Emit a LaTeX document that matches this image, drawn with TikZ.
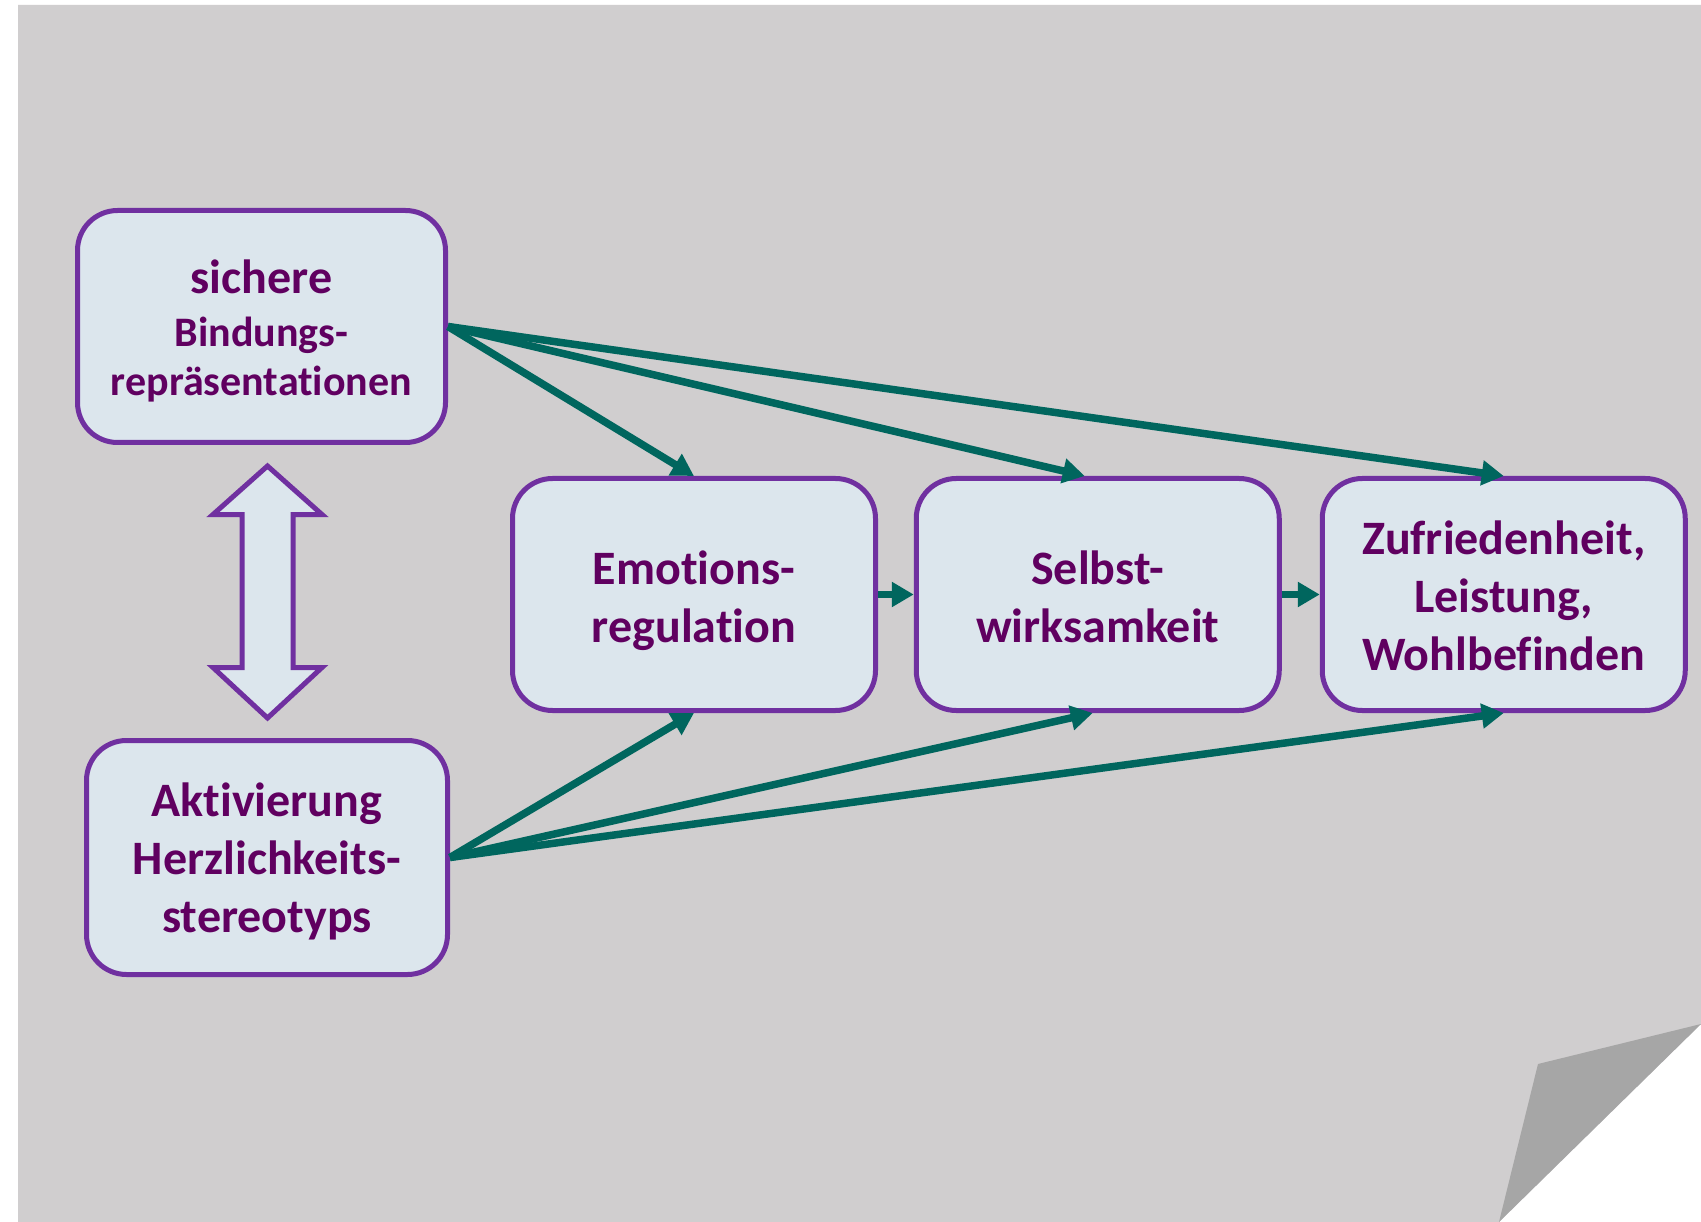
\documentclass[tikz,border=0pt]{standalone}
\usepackage{fontspec}
\setmainfont{Carlito}[Ligatures={NoCommon}]
\usetikzlibrary{arrows.meta,calc}
\definecolor{bggray}{HTML}{D0CECF}
\definecolor{foldgray}{HTML}{A6A6A6}
\definecolor{boxfill}{HTML}{DCE6ED}
\definecolor{boxline}{HTML}{7030A0}
\definecolor{txtpurple}{HTML}{600060}
\definecolor{arrowteal}{HTML}{00665E}
\begin{document}
\begin{tikzpicture}[x=1pt,y=-1pt,
  box/.style={draw=boxline, fill=boxfill, line width=5pt, rounded corners=40pt,
    minimum width=363pt, minimum height=232pt, align=center, text=txtpurple,
    font=\fontsize{48}{58}\selectfont\bfseries, inner sep=0pt, text depth=8pt},
  conn/.style={draw=arrowteal, line width=7.5pt, -{Triangle[length=22pt,width=24pt]}},
  blockarrow/.style={draw=boxline, fill=boxfill, line width=5pt, line join=miter}]
\useasboundingbox (0,0) rectangle (1701,1222);
\fill[white] (0,0) rectangle (1701,1222);
\fill[bggray] (18,5) -- (1701,5) -- (1701,1024) -- (1499,1222) -- (18,1222) -- cycle;
\fill[foldgray] (1701,1024) -- (1538,1064) -- (1499,1222) -- cycle;

\node[box, minimum width=368pt, text height=146pt] (b1) at (261.5,326.5)
  {{\fontsize{48}{53}\selectfont sichere}\\[-5.5pt]
   {\fontsize{42}{50}\selectfont Bindungs-}\\[-9pt]
   {\fontsize{42}{50}\selectfont repräsentationen}};
\node[box, minimum width=361pt, minimum height=234pt, text height=157pt] (b2) at (267,857.5)
  {Aktivierung\\Herzlichkeits-\\stereotyps};
\node[box, text height=104pt] (b3) at (694,594.5) {Emotions-\\regulation};
\node[box, text height=103pt] (b4) at (1097.75,594.5) {Selbst-\\wirksamkeit};
\node[box, text height=159pt] (b5) at (1503.75,594.5) {Zufriedenheit,\\Leistung,\\Wohlbefinden};

\draw[blockarrow] (267.5,466) -- (322,514.5) -- (293,514.5) -- (293,667.5)
  -- (322,667.5) -- (267.5,718) -- (213,667.5) -- (242,667.5) -- (242,514.5)
  -- (213,514.5) -- cycle;

\coordinate (b4n) at ([xshift=-13pt]b4.north);
\coordinate (b4s) at ([xshift=-5pt]b4.south);
\draw[conn] (b1.east) -- (b3.north);
\draw[conn] (b1.east) -- (b4n);
\draw[conn] (b1.east) -- (b5.north);
\draw[conn] (b2.east) -- (b3.south);
\draw[conn] (b2.east) -- (b4s);
\draw[conn] (b2.east) -- (b5.south);
\draw[conn] (b3.east) -- (b4.west);
\draw[conn] (b4.east) -- (b5.west);
\end{tikzpicture}
\end{document}
